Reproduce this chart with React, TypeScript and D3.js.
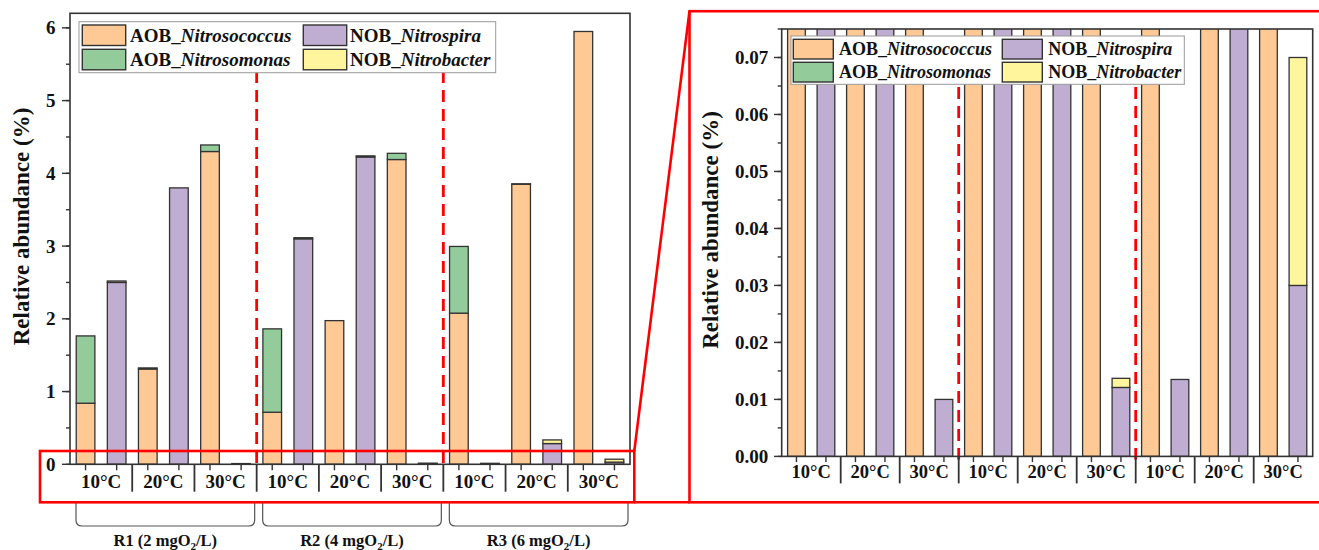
import React from "react";
import * as d3 from "d3";

// categories
const reactors = ["R1", "R2", "R3"];
const oxygen = ["2", "4", "6"];
const temperatures = ["10°C", "20°C", "30°C"];

// one value per reactor x temperature group (R1 10, R1 20, R1 30, R2 10, ...)
const aobNitrosococcus = [0.84, 1.31, 4.3, 0.716, 1.975, 4.19, 2.078, 3.85, 5.95];
const aobNitrosomonas = [0.925, 0.015, 0.09, 1.146, 0, 0.085, 0.917, 0.006, 0];
const nobNitrospira = [2.5, 3.8, 0.01, 3.1, 4.225, 0.0121, 0.0135, 0.285, 0.03];
const nobNitrobacter = [0.02, 0, 0, 0.015, 0.015, 0.0016, 0, 0.05, 0.04];

const seriesPrefix = ["AOB_", "AOB_", "NOB_", "NOB_"];
const seriesNames = ["Nitrosococcus", "Nitrosomonas", "Nitrospira", "Nitrobacter"];
const seriesColors = ["#FEC994", "#94CB9A", "#BFADD2", "#FEF59C"];

const leftTicks = [0, 1, 2, 3, 4, 5, 6];
const rightTicks = [0, 0.01, 0.02, 0.03, 0.04, 0.05, 0.06, 0.07];

const FONT = '"Liberation Serif", "Times New Roman", Times, serif';
const RED = "#FF0000";
const INK = "#333";

const groupKeys = d3.range(reactors.length * temperatures.length);
const barKeys = d3.range(groupKeys.length * 2);

// legend grid position for each series: [row, col]
const legendCell = [[0, 0], [1, 0], [0, 1], [1, 1]];

const panels = [
  {
    id: "left",
    x0: 70, x1: 630, yTop: 13.3, yBottom: 464.3, yMax: 6.2,
    ticks: leftTicks, minorStep: 0.5, fmt: d3.format("d"),
    majorLen: 8, minorLen: 4, labelX: 14.5, tickFont: 19,
    sepLen: 27.4, xLabelDy: 24, xFont: 19, xMinorLen: 6,
    titleX: 29, titleY: 226.5,
    dashTop: 71,
    legend: { x: 79, y: 21.7, w: 416.7, h: 51, sw: 43.4, sh: 20.5, cols: [82.3, 303.3], text: [130, 350], rows: [25, 49.3], font: 19 },
  },
  {
    id: "right",
    x0: 781.7, x1: 1312.7, yTop: 29, yBottom: 456.4, yMax: 0.075,
    ticks: rightTicks, minorStep: 0.005, fmt: d3.format(".2f"),
    majorLen: 7.7, minorLen: 4, labelX: 13.4, tickFont: 19,
    sepLen: 27, xLabelDy: 21.8, xFont: 18.5, xMinorLen: 5.7,
    titleX: 718, titleY: 230,
    dashTop: 87,
    legend: { x: 791, y: 36, w: 393.3, h: 48.3, sw: 40, sh: 19.7, cols: [793.3, 1002.3], text: [839, 1048.3], rows: [39.3, 62.3], font: 18 },
  },
];

const barSegments = (i: number) => {
  const g = Math.floor(i / 2);
  if (i % 2 === 0) {
    return [
      { v: aobNitrosococcus[g], s: 0 },
      { v: aobNitrosomonas[g], s: 1 },
    ];
  }
  return [
    { v: nobNitrospira[g], s: 2 },
    { v: nobNitrobacter[g], s: 3 },
  ];
};

const Panel = ({ p }: { p: any }) => {
  const x = d3.scaleBand<number>().domain(barKeys).range([p.x0, p.x1]).paddingInner(0.4).paddingOuter(0.2);
  const gx = d3.scaleBand<number>().domain(groupKeys).range([p.x0, p.x1]);
  const y = d3.scaleLinear().domain([0, p.yMax]).range([p.yBottom, p.yTop]);
  const minor = d3.range(0, p.yMax + 1e-9, p.minorStep);
  const clipId = "clip-" + p.id;
  const L = p.legend;

  return (
    <g>
      <defs>
        <clipPath id={clipId}>
          <rect x={p.x0} y={p.yTop} width={p.x1 - p.x0} height={p.yBottom - p.yTop + 1} />
        </clipPath>
      </defs>

      {/* bars */}
      <g clipPath={`url(#${clipId})`}>
        {barKeys.map(i => {
          const segs = barSegments(i);
          let base = 0;
          return segs.map((d, k) => {
            const lo = base;
            base += d.v;
            if (d.v <= 0) return null;
            return (
              <rect key={i + "-" + k} x={x(i)} width={x.bandwidth()}
                y={y(base)} height={y(lo) - y(base)}
                fill={seriesColors[d.s]} stroke={INK} strokeWidth={1.3} />
            );
          });
        })}
      </g>

      {/* dashed separators between reactors */}
      {[3, 6].map(g => (
        <line key={g} x1={gx(g)} x2={gx(g)} y1={p.dashTop} y2={p.yBottom + 3}
          stroke={RED} strokeWidth={2.8} strokeDasharray="12,7" />
      ))}

      {/* frame */}
      <rect x={p.x0} y={p.yTop} width={p.x1 - p.x0} height={p.yBottom - p.yTop}
        fill="none" stroke={INK} strokeWidth={1.6} />

      {/* y axis */}
      {minor.map((v, k) => (
        <line key={"mn" + k} x1={p.x0 - p.minorLen} x2={p.x0} y1={y(v)} y2={y(v)} stroke={INK} strokeWidth={1.4} />
      ))}
      {p.ticks.map((v: number) => (
        <g key={"t" + v}>
          <line x1={p.x0 - p.majorLen} x2={p.x0} y1={y(v)} y2={y(v)} stroke={INK} strokeWidth={1.4} />
          <text x={p.x0 - p.labelX} y={y(v)} dy="0.35em" textAnchor="end"
            fontFamily={FONT} fontWeight="bold" fontSize={p.tickFont} fill="#111">{p.fmt(v)}</text>
        </g>
      ))}
      <text transform={`translate(${p.titleX},${p.titleY}) rotate(-90)`} textAnchor="middle"
        fontFamily={FONT} fontWeight="bold" fontSize={23} fill="#111">Relative abundance (%)</text>

      {/* x axis */}
      {barKeys.map(i => {
        const cx = (x(i) as number) + x.bandwidth() / 2;
        return <line key={"bx" + i} x1={cx} x2={cx} y1={p.yBottom} y2={p.yBottom + p.xMinorLen} stroke={INK} strokeWidth={1.4} />;
      })}
      {groupKeys.slice(1).map(g => (
        <line key={"sep" + g} x1={gx(g)} x2={gx(g)} y1={p.yBottom} y2={p.yBottom + p.sepLen} stroke={INK} strokeWidth={1.8} />
      ))}
      {groupKeys.map(g => (
        <text key={"xl" + g} x={(gx(g) as number) + gx.bandwidth() / 2} y={p.yBottom + p.xLabelDy}
          textAnchor="middle" fontFamily={FONT} fontWeight="bold" fontSize={p.xFont} fill="#111">
          {temperatures[g % temperatures.length]}
        </text>
      ))}

      {/* legend */}
      <rect x={L.x} y={L.y} width={L.w} height={L.h} fill="#fff" stroke="#999" strokeWidth={1} />
      {seriesNames.map((name, s) => {
        const [r, c] = legendCell[s];
        const sy = L.rows[r];
        return (
          <g key={"lg" + s}>
            <rect x={L.cols[c]} y={sy} width={L.sw} height={L.sh} fill={seriesColors[s]} stroke={INK} strokeWidth={1.4} />
            <text x={L.text[c]} y={sy + L.sh / 2} dy="0.35em" fontFamily={FONT} fontWeight="bold" fontSize={L.font} fill="#111">
              {seriesPrefix[s]}<tspan fontStyle="italic">{name}</tspan>
            </text>
          </g>
        );
      })}
    </g>
  );
};

const Brackets = () => {
  const p = panels[0];
  const gx = d3.scaleBand<number>().domain(d3.range(reactors.length)).range([p.x0, p.x1]);
  const top = 503, bot = 526, r = 6;
  return (
    <g>
      {reactors.map((name, k) => {
        const a = (gx(k) as number) + 6;
        const b = (gx(k) as number) + gx.bandwidth() - 2;
        const d = `M${a},${top} L${a},${bot - r} Q${a},${bot} ${a + r},${bot} L${b - r},${bot} Q${b},${bot} ${b},${bot - r} L${b},${top}`;
        return (
          <g key={name}>
            <path d={d} fill="none" stroke="#555" strokeWidth={1.2} />
            <text x={(a + b) / 2} y={545.5} textAnchor="middle" fontFamily={FONT} fontWeight="bold" fontSize={16.5} fill="#111">
              {`${name} (${oxygen[k]} mgO`}
              <tspan dy={4} fontSize={11}>2</tspan>
              <tspan dy={-4}>/L)</tspan>
            </text>
          </g>
        );
      })}
    </g>
  );
};

export default function App() {
  return (
    <svg width={1319} height={550} style={{ position: "absolute", left: 0, top: 0, background: "#fff" }}>
      <rect width={1319} height={550} fill="#fff" />
      {panels.map(p => <Panel key={p.id} p={p} />)}
      <Brackets />
      {/* zoom highlight */}
      <g fill="none" stroke={RED} strokeWidth={2.6}>
        <rect x={40} y={451} width={594.3} height={51.3} />
        <line x1={634.3} y1={451} x2={689.5} y2={11.2} />
        <line x1={634.3} y1={502.3} x2={689.5} y2={502.3} />
        <rect x={689.5} y={11.2} width={640} height={491.1} />
      </g>
    </svg>
  );
}
